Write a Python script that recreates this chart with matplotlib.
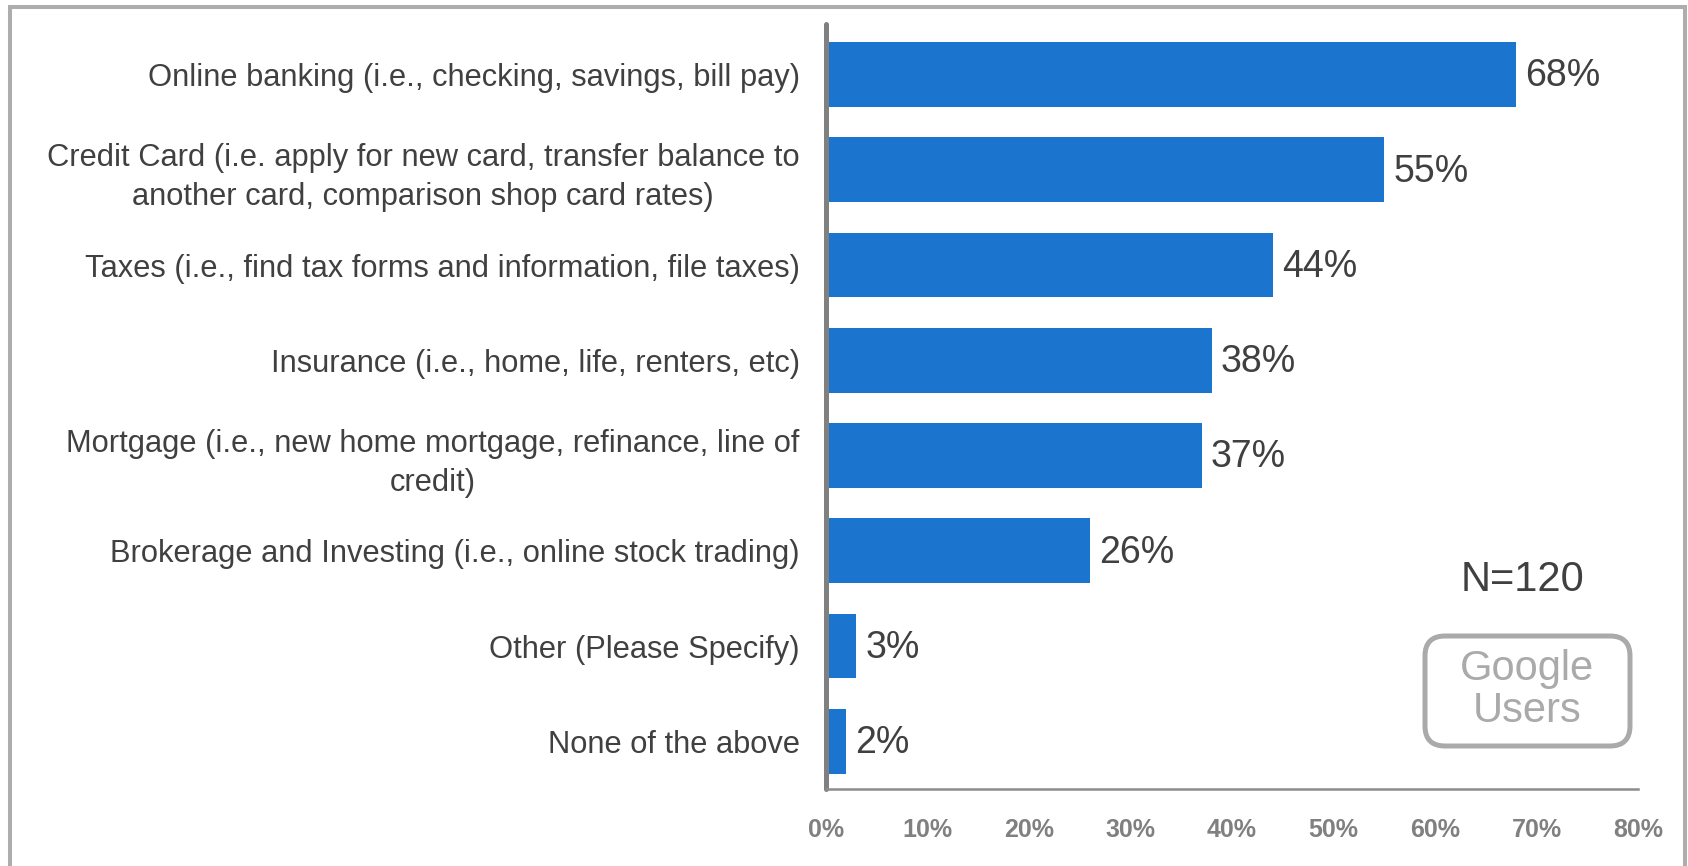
import matplotlib
matplotlib.use("Agg")
import matplotlib.pyplot as plt
from matplotlib.patches import FancyBboxPatch, Rectangle
from matplotlib.transforms import IdentityTransform

plt.rcParams['font.family'] = ['Liberation Sans', 'DejaVu Sans']

categories = [
    "Online banking (i.e., checking, savings, bill pay)",
    "Credit Card (i.e. apply for new card, transfer balance to\nanother card, comparison shop card rates)",
    "Taxes (i.e., find tax forms and information, file taxes)",
    "Insurance (i.e., home, life, renters, etc)",
    "Mortgage (i.e., new home mortgage, refinance, line of\ncredit)",
    "Brokerage and Investing (i.e., online stock trading)",
    "Other (Please Specify)",
    "None of the above",
]
shares = [0.68, 0.55, 0.44, 0.38, 0.37, 0.26, 0.03, 0.02]
value_labels = ["68%", "55%", "44%", "38%", "37%", "26%", "3%", "2%"]
x_ticks = [0.0, 0.1, 0.2, 0.3, 0.4, 0.5, 0.6, 0.7, 0.8]
x_tick_labels = ["0%", "10%", "20%", "30%", "40%", "50%", "60%", "70%", "80%"]
sample_note = "N=120"
badge_text = "Google\nUsers"

W, H = 1688, 866
fig = plt.figure(figsize=(W / 100, H / 100), dpi=100)
ax = fig.add_axes([826 / W, 1 - 789 / H, (1638 - 826) / W, (789 - 24) / H])

bar_color = "#1b75ce"
text_dark = "#404040"
pos = list(range(len(categories)))
ax.barh(pos, shares, height=0.68, color=bar_color, zorder=2)

for p, v, lab in zip(pos, shares, value_labels):
    ax.annotate(lab, xy=(v, p), xytext=(6.5, -8.5), textcoords="offset points",
                ha="left", va="baseline", fontsize=27, color=text_dark)

ax.set_xlim(0, 0.8)
ax.set_ylim(len(categories) - 0.5, -0.53)
ax.set_yticks(pos)
ax.set_yticklabels(categories, fontsize=22.2, color=text_dark,
                   multialignment="center", linespacing=1.4)
ax.set_xticks(x_ticks)
ax.set_xticklabels(x_tick_labels, fontsize=18, fontweight="bold", color="#808080")
ax.tick_params(axis="y", length=0, pad=19)
ax.tick_params(axis="x", length=0, pad=21)

for s in ("top", "right"):
    ax.spines[s].set_visible(False)
ax.spines["left"].set_color("#808080")
ax.spines["left"].set_linewidth(3.6)
ax.spines["left"].set_capstyle("round")
ax.spines["bottom"].set_color("#8c8c8c")
ax.spines["bottom"].set_linewidth(1.8)

# outer frame around the whole chart
frame = Rectangle((10, -30), 1675, 889, transform=IdentityTransform(),
                  fill=False, edgecolor="#adadad", linewidth=2.9)
fig.add_artist(frame)

# sample-size note and badge
fig.text(1522 / W, 1 - 580 / H, sample_note, ha="center", va="center",
         fontsize=30, color=text_dark)
badge = FancyBboxPatch((1425, H - 746), 205, 110,
                       boxstyle="round,pad=0,rounding_size=20",
                       transform=IdentityTransform(), fill=False,
                       edgecolor="#aaaaaa", linewidth=3.6)
fig.add_artist(badge)
fig.text(1527 / W, 1 - 690 / H, badge_text, ha="center", va="center",
         fontsize=30, color="#aaaaaa", linespacing=1.05)

fig.savefig("out.png", dpi=100, facecolor="white")
